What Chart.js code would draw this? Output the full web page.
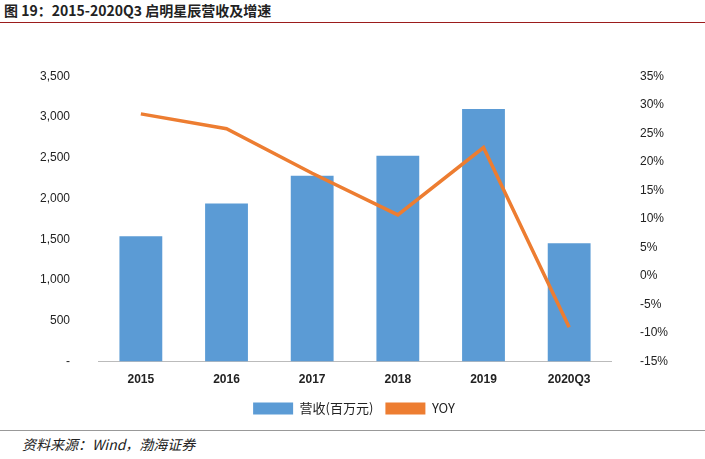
<!DOCTYPE html>
<html><head><meta charset="utf-8">
<script src="https://cdn.jsdelivr.net/npm/chart.js@4/dist/chart.umd.min.js"></script>
<style>
body{margin:0;width:705px;height:459px;background:#fff;font-family:"Noto Sans CJK SC",sans-serif;position:relative;overflow:hidden}
#title{position:absolute;left:4px;top:0;font-weight:bold;font-size:14px;color:#222}
#tline{position:absolute;left:0;top:22px;width:705px;border-top:1px solid #9b1c1c}
#wrap{position:absolute;left:20px;top:49px;width:668px;height:376px}
#bline{position:absolute;left:0;top:430px;width:705px;border-top:1px solid #999}
#src{position:absolute;left:22px;top:434px;font-style:italic;font-size:14px;color:#222}
</style></head><body>
<div id="title">图 19：2015-2020Q3 启明星辰营收及增速</div>
<div id="tline"></div>
<div id="wrap"><canvas id="c"></canvas></div>
<div id="bline"></div>
<div id="src">资料来源：Wind，渤海证券</div>
<script>
const categories = ['2015','2016','2017','2018','2019','2020Q3'];
const revenue = [1537, 1939, 2280, 2524, 3098, 1451];
const yoy = [28.4, 25.8, 18.0, 10.7, 22.5, -9.0];

new Chart(document.getElementById('c'), {
  data: {
    labels: categories,
    datasets: [
      {type:'line', label:'YOY', data:yoy, yAxisID:'y1', borderColor:'#ed7d31', backgroundColor:'#ed7d31', borderWidth:3.5, pointRadius:0, tension:0},
      {type:'bar', label:'营收(百万元)', data:revenue, yAxisID:'y', backgroundColor:'#5b9bd5', barPercentage:0.5, categoryPercentage:1}
    ]
  },
  options: {
    responsive:true, maintainAspectRatio:false, animation:false,
    layout:{padding:{top:10,bottom:0}},
    plugins:{legend:{position:'bottom', reverse:true, labels:{font:{size:13,family:'"Noto Sans CJK SC"'}, color:'#222', boxWidth:40, boxHeight:12, padding:12,
      generateLabels(ch){ return Chart.defaults.plugins.legend.labels.generateLabels(ch).map(l=>{ if(l.text==='YOY'){l.lineWidth=0;l.fillStyle='#ed7d31';} return l; }); }}},
      tooltip:{enabled:false}},
    scales:{
      x:{grid:{display:false}, border:{color:'#bbb'}, ticks:{color:'#222', font:{size:12,weight:'bold'}}},
      y:{min:0, max:3500, grid:{display:false}, border:{display:false}, ticks:{stepSize:500, color:'#222', font:{size:12}, padding:20,
        callback:v=> v===0 ? '-' : v.toLocaleString('en-US')}},
      y1:{position:'right', min:-15, max:35, grid:{display:false}, border:{display:false}, ticks:{stepSize:5, color:'#222', font:{size:12}, padding:20, callback:v=>v+'%'}}
    }
  }
});
</script>
</body></html>
